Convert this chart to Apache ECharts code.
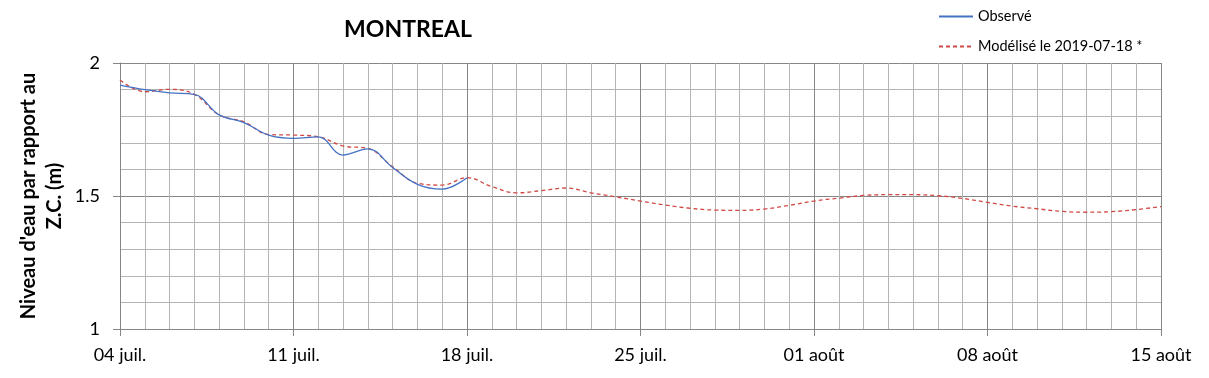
<!DOCTYPE html>
<html>
<head>
<meta charset="utf-8">
<script src="https://cdn.jsdelivr.net/npm/echarts@6/dist/echarts.min.js"></script>
<style>
  html, body { margin: 0; padding: 0; background: #fff; }
  #main { width: 1209px; height: 378px; }
</style>
</head>
<body>
<div id="main"></div>
<script>
// jours depuis le 04 juil.
const days = [];
for (let d = 0; d <= 42; d++) days.push(d);

// étiquettes de l'axe x (toutes les 7 jours)
const weekLabels = ['04 juil.', '11 juil.', '18 juil.', '25 juil.', '01 août', '08 août', '15 août'];

// niveau observé (jusqu'au 18 juil.)
const observe = [1.917, 1.900, 1.888, 1.882, 1.805, 1.776, 1.729, 1.717, 1.722, 1.654,
  1.677, 1.607, 1.544, 1.526, 1.569];

// niveau modélisé
const modelise = [1.936, 1.892, 1.901, 1.882, 1.805, 1.779, 1.731, 1.729, 1.723, 1.688,
  1.679, 1.610, 1.548, 1.541, 1.569, 1.535, 1.512, 1.520, 1.530, 1.512,
  1.497, 1.481, 1.466, 1.454, 1.447, 1.446, 1.451, 1.465, 1.481, 1.492,
  1.502, 1.505, 1.505, 1.501, 1.491, 1.476, 1.462, 1.452, 1.442, 1.439,
  1.441, 1.449, 1.460];

const font = 'Lato, "Open Sans", sans-serif';

var myChart = echarts.init(document.getElementById('main'));

const option = {
    animation: false,
    title: {
        text: 'MONTREAL',
        left: 403,
        top: 13,
        textAlign: 'center',
        textStyle: { fontFamily: font, fontSize: 23, fontWeight: 'bold', color: '#000' }
    },
    legend: {
        orient: 'vertical',
        left: 938,
        top: 9,
        padding: 0,
        itemWidth: 34,
        itemHeight: 14,
        itemGap: 15,
        itemStyle: { opacity: 0 },
        textStyle: { fontFamily: font, fontSize: 14.5, color: '#000' },
        data: ['Observé', 'Modélisé le 2019-07-18 *']
    },
    grid: { left: 120, right: 48, top: 63, bottom: 49, outerBoundsMode: 'none', containLabel: false },
    xAxis: {
        type: 'value',
        min: 0,
        max: 42,
        interval: 7,
        axisLine: { show: true, lineStyle: { color: '#868686' } },
        axisTick: { show: true, length: 7, lineStyle: { color: '#868686' } },
        axisLabel: {
            fontFamily: font, fontSize: 18, color: '#000', margin: 17,
            formatter: function (value) {
                return weekLabels[Math.round(value / 7)];
            }
        },
        splitLine: { show: true, lineStyle: { color: '#868686', width: 1 } },
        minorTick: { show: false, splitNumber: 7 },
        minorSplitLine: { show: true, lineStyle: { color: '#b4b4b4', width: 1 } }
    },
    yAxis: {
        type: 'value',
        min: 1,
        max: 2,
        interval: 0.5,
        name: "Niveau d'eau par rapport au\nZ.C. (m)",
        nameLocation: 'middle',
        nameRotate: 90,
        nameGap: 52,
        nameMoveOverlap: false,
        nameTextStyle: { fontFamily: font, fontSize: 20, fontWeight: 'bold', color: '#000', lineHeight: 26 },
        axisLine: { show: true, lineStyle: { color: '#868686' } },
        axisTick: { show: true, length: 7, lineStyle: { color: '#868686' } },
        axisLabel: { fontFamily: font, fontSize: 18, color: '#000', margin: 20 },
        splitLine: { show: true, lineStyle: { color: '#868686', width: 1 } },
        minorTick: { show: false, splitNumber: 5 },
        minorSplitLine: { show: true, lineStyle: { color: '#b4b4b4', width: 1 } }
    },
    series: [
        {
            name: 'Observé',
            type: 'line',
            data: observe.map((v, i) => [days[i], v]),
            smooth: 0.4,
            symbol: 'none',
            lineStyle: { color: '#4472C4', width: 1.3 },
            itemStyle: { color: '#4472C4' },
            z: 3
        },
        {
            name: 'Modélisé le 2019-07-18 *',
            type: 'line',
            data: modelise.map((v, i) => [days[i], v]),
            smooth: 0.4,
            symbol: 'none',
            lineStyle: { color: '#D04A45', width: 1.3, type: [4, 3] },
            itemStyle: { color: '#D04A45' },
            z: 2
        }
    ]
};

myChart.setOption(option);
</script>
</body>
</html>
